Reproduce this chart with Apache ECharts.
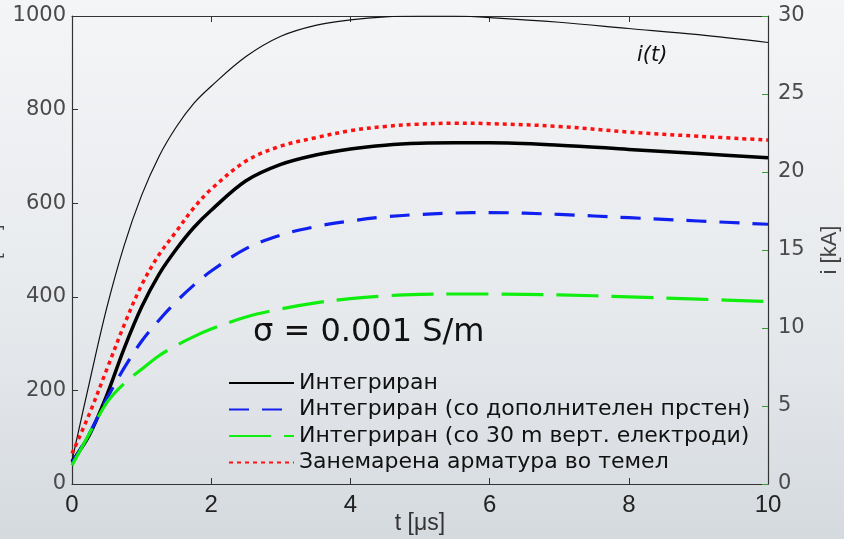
<!DOCTYPE html>
<html>
<head>
<meta charset="utf-8">
<script src="https://cdn.jsdelivr.net/npm/echarts@6/dist/echarts.min.js"></script>
<style>
  html, body { margin: 0; padding: 0; }
  #chart { width: 844px; height: 539px; }
</style>
</head>
<body>
<div id="chart"></div>
<script>
// time axis, µs
var tValues = [0, 0.25, 0.5, 0.75, 1, 1.25, 1.5, 1.75, 2, 2.5, 3, 3.5, 4, 4.5, 5, 5.5, 6, 7, 8, 9, 10];

// voltages (left axis)
var integrated   = [48, 105, 190, 290, 378, 448, 502, 548, 585, 648, 683, 703, 716, 724, 728, 729, 729, 724, 715, 706, 697];
var withRing     = [45, 108, 182, 248, 305, 350, 390, 425, 455, 503, 532, 550, 562, 571, 576, 579, 580, 576, 569, 562, 555];
var withRods     = [40, 108, 174, 215, 245, 274, 296, 315, 331, 357, 374, 387, 396, 402, 405, 406, 406, 404, 400, 395, 390];
var neglected    = [65, 150, 245, 340, 425, 490, 540, 590, 630, 690, 722, 740, 755, 764, 769, 771, 770, 764, 752, 743, 735];

// current i(t) in kA (right axis)
var current = [1.5, 6.5, 11.3, 15.3, 18.5, 21.0, 22.9, 24.4, 25.5, 27.4, 28.7, 29.4, 29.75, 29.95, 30, 30, 29.9, 29.6, 29.2, 28.8, 28.3];

var seriesNames = [
    'Интегриран',
    'Интегриран (со дополнителен прстен)',
    'Интегриран (со 30 m верт. електроди)',
    'Занемарена арматура во темел'
];

function pairs(values) {
    return tValues.map(function (t, i) { return [t, values[i]]; });
}

var font = '"Liberation Sans", Arial, sans-serif';
var wide = '"DejaVu Sans", sans-serif';

var myChart = echarts.init(document.getElementById('chart'));
myChart.setOption({
    backgroundColor: new echarts.graphic.LinearGradient(0, 0, 0, 1, [
        { offset: 0, color: '#f4f5f7' },
        { offset: 0.6, color: '#e6e9ec' },
        { offset: 1, color: '#d5dadf' }
    ]),
    animation: false,
    grid: { left: 72, right: 76, top: 16, bottom: 55, outerBoundsMode: 'none', containLabel: false },
    xAxis: [
        {
            type: 'value', min: 0, max: 10, interval: 2,
            name: 't [μs]', nameLocation: 'middle', nameGap: 28, nameMoveOverlap: false,
            nameTextStyle: { fontFamily: font, fontSize: 23, color: '#333' },
            axisLine: { onZero: false, lineStyle: { color: '#333', width: 1.2 } },
            axisTick: { inside: true, length: 6, lineStyle: { color: '#333' } },
            axisLabel: { fontFamily: font, fontSize: 24, color: '#222', margin: 9 },
            splitLine: { show: false }
        },
        {
            type: 'value', min: 0, max: 10, interval: 2, position: 'top',
            axisLine: { show: true, onZero: false, lineStyle: { color: '#333', width: 1.2 } },
            axisTick: { show: true, inside: true, length: 6, lineStyle: { color: '#333' } },
            axisLabel: { show: false },
            splitLine: { show: false }
        }
    ],
    yAxis: [
        {
            type: 'value', min: 0, max: 1000, interval: 200,
            name: 'u [kV]', nameLocation: 'middle', nameGap: 68, nameMoveOverlap: false,
            nameTextStyle: { fontFamily: font, fontSize: 20, color: '#444' },
            axisLine: { show: true, onZero: false, lineStyle: { color: '#333', width: 1.2 } },
            axisTick: { show: true, inside: true, length: 6, lineStyle: { color: '#333' } },
            axisLabel: {
                fontFamily: wide, fontSize: 21, color: '#4a4a4a', margin: 6,
                formatter: function (v) { return String(v); }
            },
            splitLine: { show: false }
        },
        {
            type: 'value', min: 0, max: 30, interval: 5, position: 'right',
            name: 'i [kA]', nameLocation: 'middle', nameGap: 51, nameMoveOverlap: false,
            nameTextStyle: { fontFamily: font, fontSize: 22, color: '#444' },
            axisLine: { show: true, onZero: false, lineStyle: { color: '#333', width: 1.2 } },
            axisTick: { show: true, inside: true, length: 6, lineStyle: { color: '#3a9a3a' } },
            axisLabel: { fontFamily: wide, fontSize: 21, color: '#4a4a4a', margin: 10 },
            splitLine: { show: false }
        }
    ],
    legend: {
        data: seriesNames,
        orient: 'vertical',
        left: 223,
        top: 367,
        itemWidth: 65,
        itemHeight: 14,
        itemGap: 4.5,
        itemStyle: { opacity: 0 },
        textStyle: { fontFamily: wide, fontSize: 22, color: '#111', lineHeight: 20 }
    },
    graphic: [
        {
            type: 'text', left: 253, top: 317,
            style: { text: 'σ = 0.001 S/m', font: '32px "DejaVu Sans", sans-serif', fill: '#111' }
        },
        {
            type: 'text', left: 637, top: 45,
            style: { text: 'i(t)', font: 'italic 21px "DejaVu Sans", sans-serif', fill: '#111' }
        }
    ],
    series: [
        {
            name: 'i(t)', type: 'line', yAxisIndex: 1, data: pairs(current),
            symbol: 'none', smooth: 0.35,
            lineStyle: { color: '#111', width: 1.2 }
        },
        {
            name: seriesNames[3], type: 'line', data: pairs(neglected),
            symbol: 'none', smooth: 0.35,
            itemStyle: { color: '#ff1010' },
            lineStyle: { color: '#ff1010', width: 3.5, type: [4, 4] }
        },
        {
            name: seriesNames[0], type: 'line', data: pairs(integrated),
            symbol: 'none', smooth: 0.35,
            itemStyle: { color: '#000' },
            lineStyle: { color: '#000', width: 3.5 }
        },
        {
            name: seriesNames[1], type: 'line', data: pairs(withRing),
            symbol: 'none', smooth: 0.35,
            itemStyle: { color: '#1020ee' },
            lineStyle: { color: '#1020ee', width: 3.2, type: [20, 13] }
        },
        {
            name: seriesNames[2], type: 'line', data: pairs(withRods),
            symbol: 'none', smooth: 0.35,
            itemStyle: { color: '#10ee10' },
            lineStyle: { color: '#10ee10', width: 3.2, type: [42, 13] }
        }
    ]
});
</script>
</body>
</html>
